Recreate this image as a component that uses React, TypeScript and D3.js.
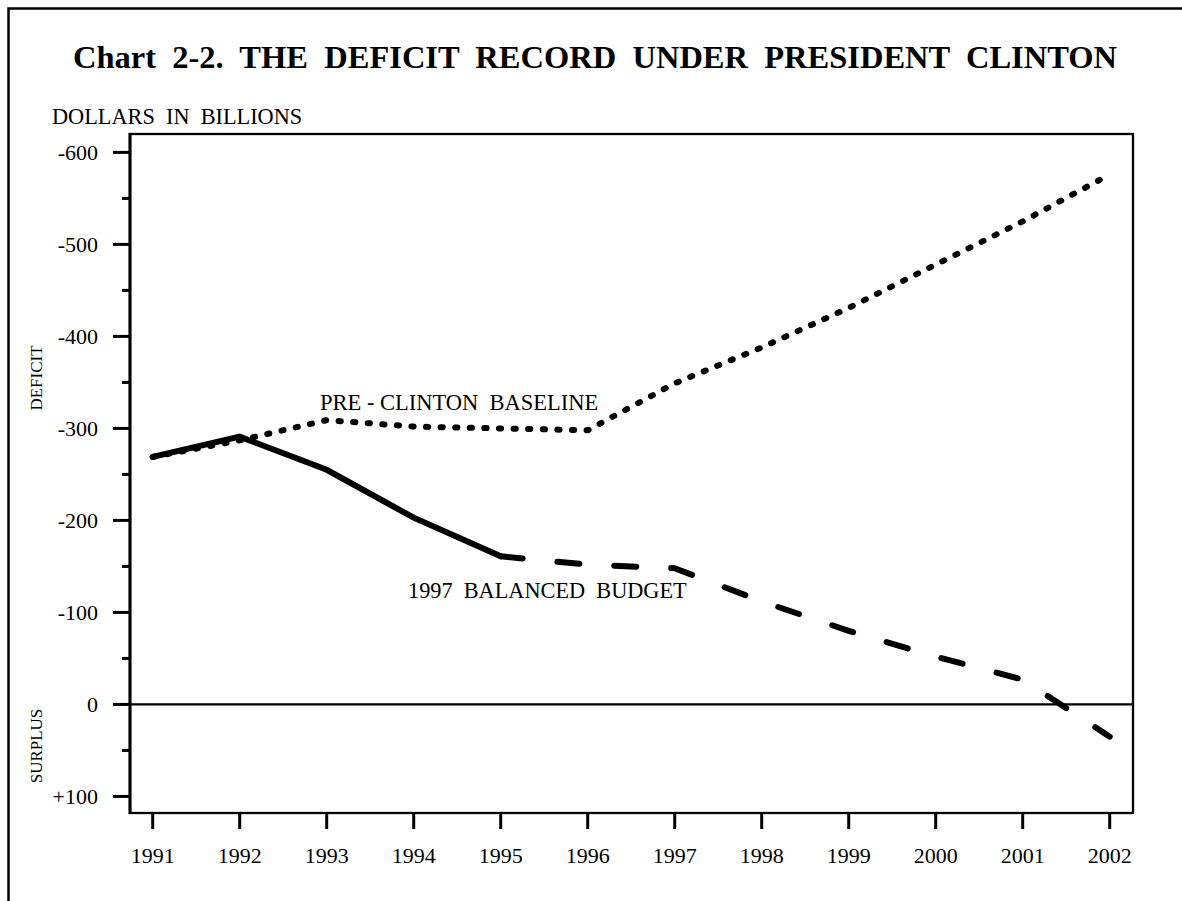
import React, { useEffect, useRef } from 'react';
import * as d3 from 'd3';

const years = [1991, 1992, 1993, 1994, 1995, 1996, 1997, 1998, 1999, 2000, 2001, 2002];

// deficit in billions (positive = deficit, negative = surplus)
const baseline = [269, 287, 309, 302, 300, 298, 349, 388, 431, 478, 525, 576];
const actualYears = [1991, 1992, 1993, 1994, 1995];
const actual = [269, 291, 255, 203, 161];
const projYears = [1995, 1996, 1997, 1998, 1999, 2000, 2001, 2002];
const projected = [161, 152, 148, 112, 80, 52, 27, -35];

const yMajorTicks = [-100, 0, 100, 200, 300, 400, 500, 600];
const yTickLabels = ['+100', '0', '-100', '-200', '-300', '-400', '-500', '-600'];
const yMinorTicks = [-50, 50, 150, 250, 350, 450, 550];

const FONT = '"Liberation Serif", "Times New Roman", serif';

const App: React.FC = () => {
  const svgRef = useRef<SVGSVGElement>(null);

  useEffect(() => {
    if (!svgRef.current) return;
    const width = 1182;
    const height = 901;
    const plot = { left: 130, right: 1133, top: 134, bottom: 813 };

    const svg = d3.select(svgRef.current);
    svg.selectAll('*').remove();

    const x = d3.scaleLinear().domain([1991, 2002]).range([152.7, 1109.7]);
    const y = d3.scaleLinear().domain([-118, 620]).range([plot.bottom, plot.top]);

    // outer page frame (runs off the right/bottom edge)
    svg.append('rect')
      .attr('x', 8.5).attr('y', 8.5)
      .attr('width', width + 20).attr('height', height + 20)
      .attr('fill', 'none').attr('stroke', '#000').attr('stroke-width', 2.5);

    svg.append('text')
      .attr('x', 595).attr('y', 68)
      .attr('text-anchor', 'middle')
      .attr('font-family', FONT).attr('font-weight', 'bold').attr('font-size', 32.5)
      .style('white-space', 'pre')
      .text('Chart  2-2.  THE  DEFICIT  RECORD  UNDER  PRESIDENT  CLINTON');

    svg.append('text')
      .attr('x', 52).attr('y', 124)
      .attr('font-family', FONT).attr('font-size', 22.3)
      .style('white-space', 'pre')
      .text('DOLLARS  IN  BILLIONS');

    // plot frame
    svg.append('rect')
      .attr('x', plot.left).attr('y', plot.top)
      .attr('width', plot.right - plot.left).attr('height', plot.bottom - plot.top)
      .attr('fill', 'none').attr('stroke', '#000').attr('stroke-width', 2.3);
    svg.append('line')
      .attr('x1', plot.left).attr('x2', plot.left)
      .attr('y1', plot.top - 1).attr('y2', plot.bottom + 1)
      .attr('stroke', '#000').attr('stroke-width', 3);

    // y ticks
    svg.append('g').selectAll('line')
      .data(yMajorTicks)
      .enter().append('line')
      .attr('x1', 113).attr('x2', plot.left)
      .attr('y1', (d) => y(d)).attr('y2', (d) => y(d))
      .attr('stroke', '#000').attr('stroke-width', 3);
    svg.append('g').selectAll('line')
      .data(yMinorTicks)
      .enter().append('line')
      .attr('x1', 122).attr('x2', plot.left)
      .attr('y1', (d) => y(d)).attr('y2', (d) => y(d))
      .attr('stroke', '#000').attr('stroke-width', 3);
    svg.append('g').selectAll('text')
      .data(yMajorTicks)
      .enter().append('text')
      .attr('x', 98).attr('y', (d) => y(d))
      .attr('dy', '0.35em')
      .attr('text-anchor', 'end')
      .attr('font-family', FONT).attr('font-size', 22)
      .text((d, i) => yTickLabels[i]);

    // zero line
    svg.append('line')
      .attr('x1', 113).attr('x2', plot.right)
      .attr('y1', y(0)).attr('y2', y(0))
      .attr('stroke', '#000').attr('stroke-width', 2.3);

    // x ticks
    svg.append('g').selectAll('line')
      .data(years)
      .enter().append('line')
      .attr('x1', (d) => x(d)).attr('x2', (d) => x(d))
      .attr('y1', plot.bottom).attr('y2', 829)
      .attr('stroke', '#000').attr('stroke-width', 3);
    svg.append('g').selectAll('text')
      .data(years)
      .enter().append('text')
      .attr('x', (d) => x(d)).attr('y', 863)
      .attr('text-anchor', 'middle')
      .attr('font-family', FONT).attr('font-size', 22)
      .text((d) => String(d));

    // side labels
    svg.append('text')
      .attr('transform', 'translate(42,378) rotate(-90)')
      .attr('text-anchor', 'middle')
      .attr('font-family', FONT).attr('font-size', 17)
      .text('DEFICIT');
    svg.append('text')
      .attr('transform', 'translate(42,746) rotate(-90)')
      .attr('text-anchor', 'middle')
      .attr('font-family', FONT).attr('font-size', 17)
      .text('SURPLUS');

    const line = d3.line<[number, number]>()
      .x((d) => x(d[0]))
      .y((d) => y(d[1]));

    // pre-Clinton baseline (dotted)
    svg.append('path')
      .attr('d', line(years.map((yr, i) => [yr, baseline[i]] as [number, number])))
      .attr('fill', 'none').attr('stroke', '#000').attr('stroke-width', 6)
      .attr('stroke-linecap', 'round').attr('stroke-linejoin', 'round')
      .attr('stroke-dasharray', '2.2 12.4');

    // actual (solid)
    svg.append('path')
      .attr('d', line(actualYears.map((yr, i) => [yr, actual[i]] as [number, number])))
      .attr('fill', 'none').attr('stroke', '#000').attr('stroke-width', 6)
      .attr('stroke-linecap', 'round').attr('stroke-linejoin', 'miter');

    // 1997 balanced budget projection (dashed)
    svg.append('path')
      .attr('d', line(projYears.map((yr, i) => [yr, projected[i]] as [number, number])))
      .attr('fill', 'none').attr('stroke', '#000').attr('stroke-width', 6)
      .attr('stroke-linecap', 'round').attr('stroke-linejoin', 'round')
      .attr('stroke-dasharray', '22 35');

    svg.append('text')
      .attr('x', 320).attr('y', 410)
      .attr('font-family', FONT).attr('font-size', 22.5)
      .style('white-space', 'pre')
      .text('PRE - CLINTON  BASELINE');
    svg.append('text')
      .attr('x', 408).attr('y', 598)
      .attr('font-family', FONT).attr('font-size', 22.3)
      .style('white-space', 'pre')
      .text('1997  BALANCED  BUDGET');
  }, []);

  return (
    <svg
      ref={svgRef}
      width={1182}
      height={901}
      style={{ position: 'absolute', left: 0, top: 0, background: '#fff' }}
    />
  );
};

export default App;
